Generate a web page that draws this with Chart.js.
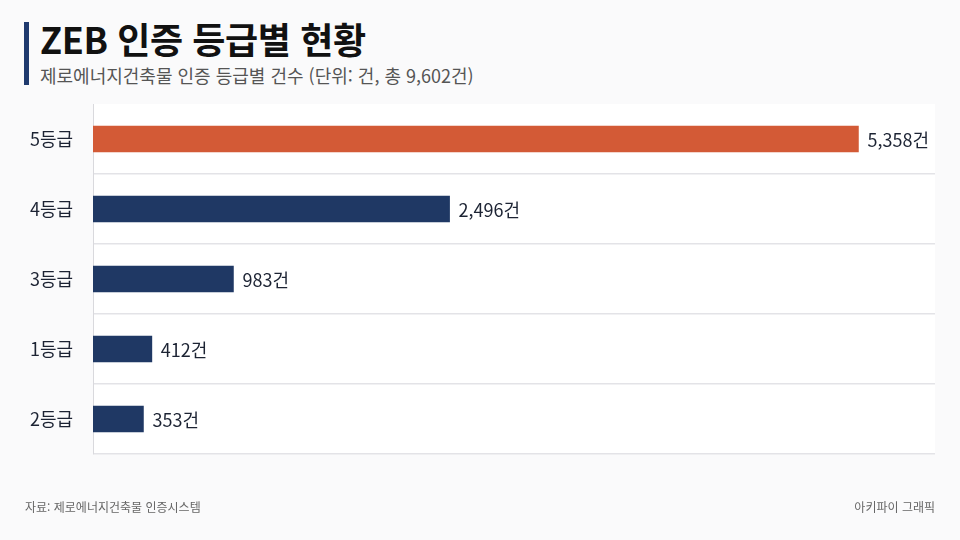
<!DOCTYPE html>
<html lang="ko">
<head>
<meta charset="utf-8">
<title>ZEB 인증 등급별 현황</title>
<script src="https://cdn.jsdelivr.net/npm/chart.js@4.4.1/dist/chart.umd.min.js"></script>
<style>
  html, body { margin: 0; padding: 0; }
  body {
    width: 960px; height: 540px; position: relative; overflow: hidden;
    background: #fafafb;
    font-family: "Noto Sans CJK KR", "Noto Sans", sans-serif;
  }
  .accent { position: absolute; left: 24px; top: 22px; width: 5px; height: 63px; background: #1f3a6e; }
  h1 {
    position: absolute; left: 40px; top: 16px; margin: 0;
    font-size: 36px; line-height: 44px; font-weight: 700; color: #111;
    letter-spacing: -0.4px;
  }
  .sub {
    position: absolute; left: 40px; top: 62px; margin: 0;
    font-size: 18px; line-height: 26px; color: #555;
  }
  .foot { position: absolute; top: 498px; font-size: 12px; line-height: 18px; color: #666; }
  .foot.l { left: 25px; }
  .foot.r { right: 25px; }
  #wrap { position: absolute; left: 0; top: 0; width: 960px; height: 540px; }
</style>
</head>
<body>
<div class="accent"></div>
<h1>ZEB 인증 등급별 현황</h1>
<p class="sub">제로에너지건축물 인증 등급별 건수 (단위: 건, 총 9,602건)</p>
<div id="wrap"><canvas id="chart"></canvas></div>
<div class="foot l">자료: 제로에너지건축물 인증시스템</div>
<div class="foot r">아키파이 그래픽</div>

<script>
// 등급별 인증 건수
const grades = ['5등급', '4등급', '3등급', '1등급', '2등급'];
const counts = [5358, 2496, 983, 412, 353];
const barColors = ['#d35a36', '#1f3864', '#1f3864', '#1f3864', '#1f3864'];

const fontFamily = '"Noto Sans CJK KR", "Noto Sans", sans-serif';

// 막대 끝에 값 표시
const valueLabels = {
    id: 'valueLabels',
    afterDatasetsDraw(chart) {
        const ctx = chart.ctx;
        const meta = chart.getDatasetMeta(0);
        ctx.save();
        ctx.font = '18px ' + fontFamily;
        ctx.fillStyle = '#1c2333';
        ctx.textAlign = 'left';
        ctx.textBaseline = 'middle';
        meta.data.forEach((bar, i) => {
            ctx.fillText(counts[i].toLocaleString('en-US') + '건', bar.x + 9, bar.y + 1);
        });
        ctx.restore();
    }
};

// 그래프 영역만 흰 배경
const areaBg = {
    id: 'areaBg',
    beforeDraw(chart) {
        const a = chart.chartArea;
        chart.ctx.save();
        chart.ctx.fillStyle = '#ffffff';
        chart.ctx.fillRect(a.left, a.top, a.right - a.left, a.bottom - a.top);
        chart.ctx.restore();
    }
};

new Chart(document.getElementById('chart'), {
    type: 'bar',
    data: {
        labels: grades,
        datasets: [{
            data: counts,
            backgroundColor: barColors,
            barThickness: 26,
            borderWidth: 0,
        }],
    },
    options: {
        indexAxis: 'y',
        responsive: true,
        maintainAspectRatio: false,
        animation: false,
        layout: { padding: { top: 104, bottom: 86, right: 25, left: 0 } },
        plugins: {
            legend: { display: false },
            tooltip: { enabled: false },
        },
        scales: {
            x: {
                display: false,
                min: 0,
                max: 5894,
            },
            y: {
                afterFit(scale) { scale.width = 93; },
                border: { display: true, color: '#d9d9dd', width: 1 },
                grid: {
                    drawTicks: false,
                    color: ctx => ctx.index === 0 ? 'rgba(0,0,0,0)' : '#e3e3e7',
                    lineWidth: 1.5,
                },
                ticks: {
                    padding: 20,
                    color: '#1c2333',
                    font: { family: fontFamily, size: 18 },
                },
            },
        },
    },
    plugins: [areaBg, valueLabels],
});
</script>
</body>
</html>
